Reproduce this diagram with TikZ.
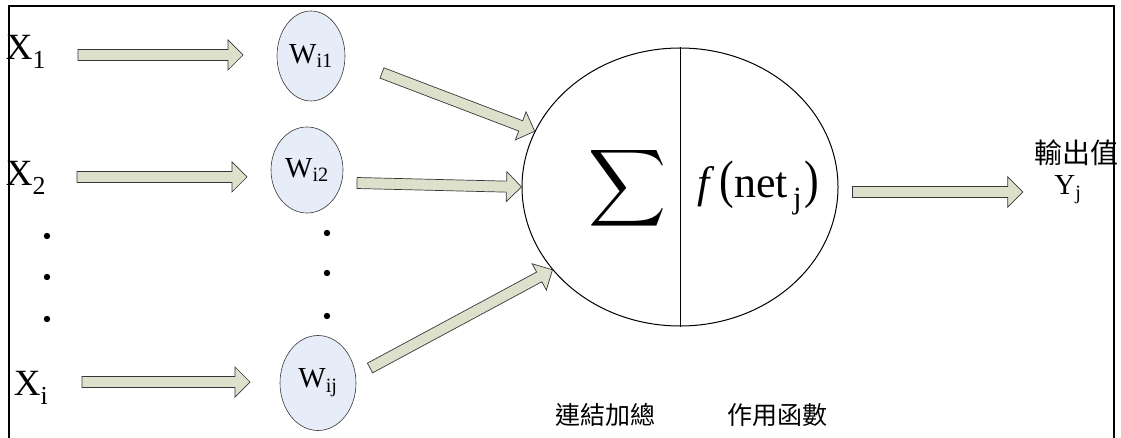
\documentclass[tikz,border=0pt]{standalone}
\usepackage{fontspec}
\setmainfont{Liberation Serif}
\newfontfamily\cjk{Noto Sans CJK TC}
\usepackage{xcolor}
\usepackage{tikz}
\usetikzlibrary{calc,shapes.geometric}
\definecolor{arrowfill}{RGB}{221,225,204}
\definecolor{arrowline}{RGB}{55,55,55}
\definecolor{weightfill}{RGB}{230,236,248}
\tikzset{
	blockarrow/.style={draw=arrowline, fill=arrowfill, line width=0.7pt, line join=miter,
		to path={let \p1=(\tikztostart), \p2=(\tikztotarget),
			\n1={atan2(\y2-\y1,\x2-\x1)}, \n2={veclen(\x2-\x1,\y2-\y1)} in
			{[shift={(\p1)}, rotate=\n1]
				(0pt,-5.5pt) -- ({(\n2-15)*1pt},-5.5pt) -- ({(\n2-15)*1pt},-15pt)
				-- ({\n2*1pt},0pt) -- ({(\n2-15)*1pt},15pt) -- ({(\n2-15)*1pt},5.5pt)
				-- (0pt,5.5pt) -- cycle}}},
	frame/.style={line width=2.5pt},
	dotmark/.style={fill=black}
}

\begin{document}
\begin{tikzpicture}[
	x=1pt, y=-1pt,
	xlabel/.style={font=\fontsize{37}{37}\selectfont, inner sep=0pt},
	weight/.style={ellipse, draw=arrowline, fill=weightfill, line width=0.6pt,
		inner sep=0pt, font=\fontsize{29}{29}\selectfont},
	neuron/.style={ellipse, draw, line width=1pt, inner sep=0pt,
		minimum width=316pt, minimum height=278pt},
	cjklabel/.style={font=\cjk\fontsize{25}{25}\selectfont, inner sep=0pt},
	]
	\useasboundingbox (0,0) rectangle (1121,438);
	
	%% ── Frame (open at the bottom) ──────────────────────────────────
	\draw[frame] (9,438) -- (9,6) -- (1114,6) -- (1114,438);
	
	%% ── Inputs ───────────────────────────────────────────────────────
	\node[xlabel] (x1) at (26,52) {X\textsubscript{1}};
	\node[xlabel] (x2) at (26,178) {X\textsubscript{2}};
	\node[xlabel] (xi) at (31,388) {X\textsubscript{i}};
	\foreach \y in {236,277,319}
		\fill[dotmark] (47,\y) circle (3.2pt);
	
	%% ── Weights ──────────────────────────────────────────────────────
	\node[weight, minimum width=68pt, minimum height=90pt] (wi1) at (311,56) {W\textsubscript{i1}};
	\node[weight, minimum width=72pt, minimum height=86pt] (wi2) at (307,170) {W\textsubscript{i2}};
	\node[weight, minimum width=76pt, minimum height=95pt] (wij) at (318,383) {W\textsubscript{ij}};
	\foreach \y in {233,273,316}
		\fill[dotmark] (327,\y) circle (3.2pt);
	
	%% ── Neuron: summation | activation ───────────────────────────────
	\node[neuron] (sum) at (680,187) {};
	\draw[line width=1pt] (sum.north) -- (sum.south);
	\node[inner sep=0pt] (sigma) at (627,188) {\scalebox{5.4}{$\displaystyle\sum$}};
	\node[font=\fontsize{44}{44}\selectfont, inner sep=0pt] (act) at (758,188)
		{\textit{f}\hspace{5pt}\scalebox{1}[1.2]{(}net\textsubscript{\,j}\hspace{2pt}\scalebox{1}[1.2]{)}};
	\node[cjklabel] (sumtxt) at (605,415) {連結加總};
	\node[cjklabel] (acttxt) at (777,415) {作用函數};
	
	%% ── Output ───────────────────────────────────────────────────────
	\node[cjklabel, font=\cjk\fontsize{28}{28}\selectfont] (outtxt) at (1076,153) {輸出值};
	\node[xlabel, font=\fontsize{29}{29}\selectfont] (yj) at (1068,190) {Y\textsubscript{j}};
	
	%% ── Arrows ───────────────────────────────────────────────────────
	\draw[blockarrow] ($(x1.center)+(52,3)$) to ($(wi1.center)+(-68,-1)$);
	\draw[blockarrow] ($(x2.center)+(51,-1)$) to ($(wi2.center)+(-60,7)$);
	\draw[blockarrow] ($(xi.center)+(51,-6)$) to ($(wij.center)+(-68,-1)$);
	
	\draw[blockarrow] ($(wi1.center)+(71,17)$) to (sum.159);
	\draw[blockarrow] ($(wi2.center)+(50,13)$) to (sum.180);
	\draw[blockarrow] ($(wij.center)+(52,-15)$) to (sum.213);
	
	\draw[blockarrow] ($(sum.east)+(14,5)$) to ($(outtxt.west |- yj.west)+(-11,2)$);
	
\end{tikzpicture}
\end{document}
